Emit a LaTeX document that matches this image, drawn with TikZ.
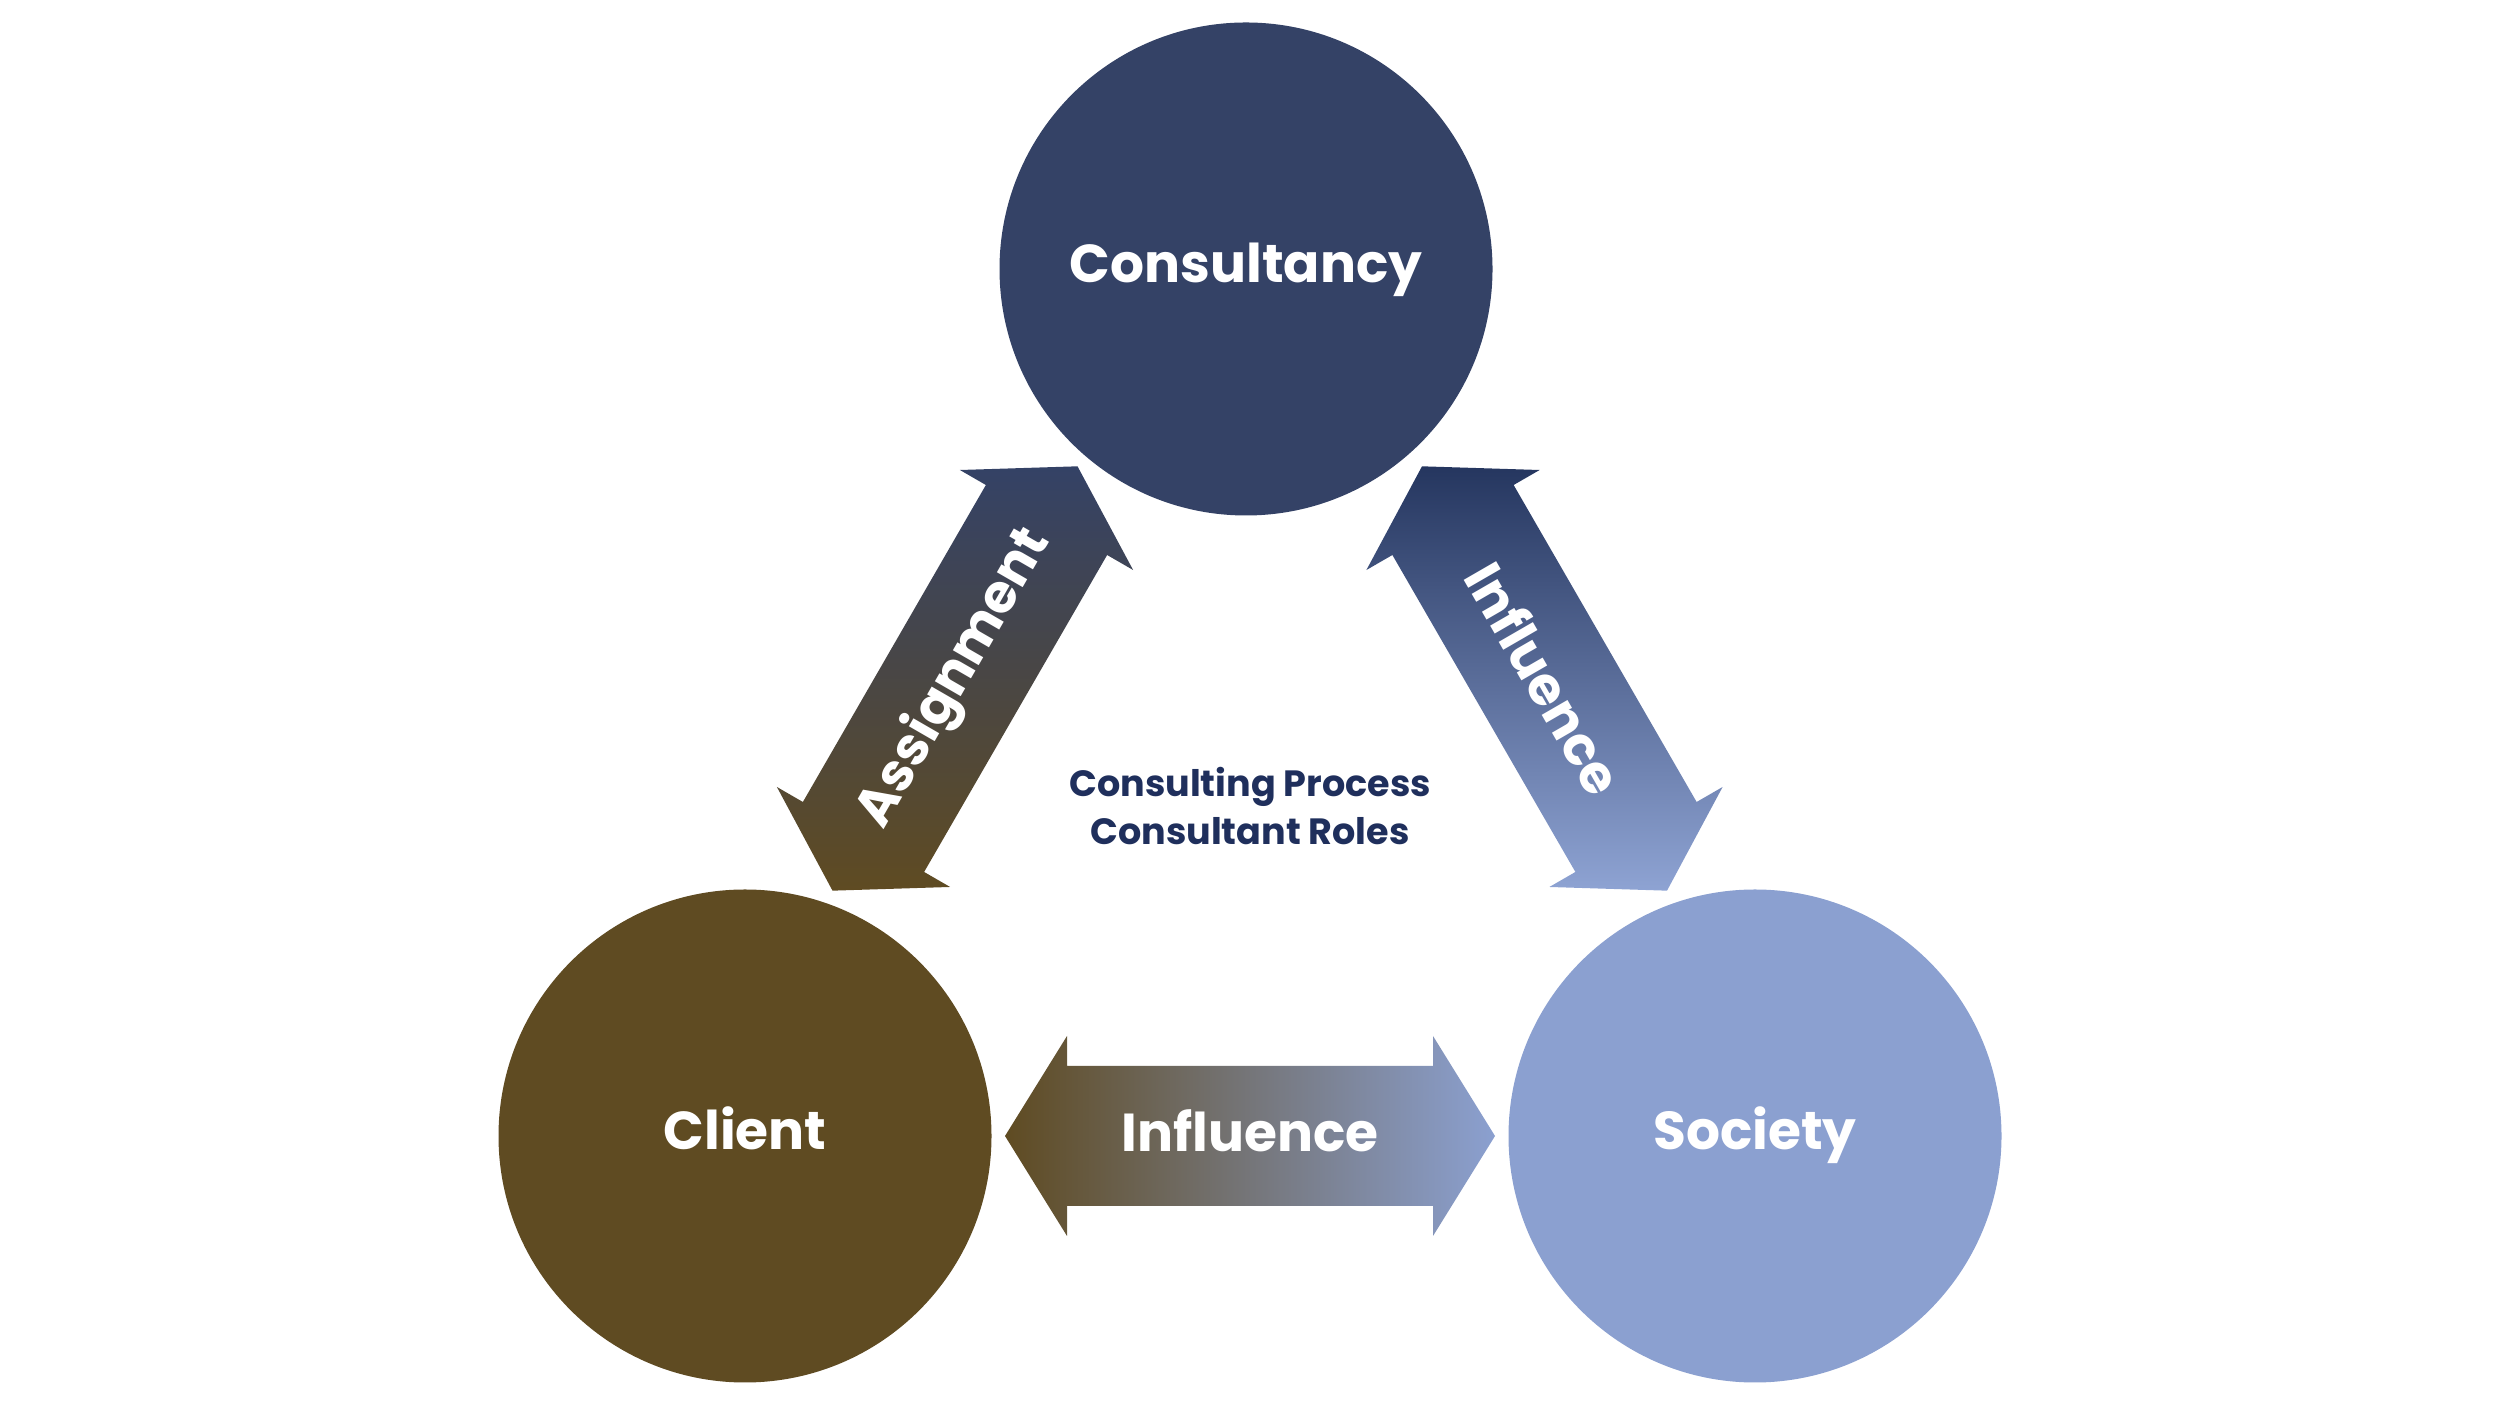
\documentclass[tikz,border=0pt]{standalone}
\usepackage{fontspec}
\setmainfont{Poppins}
\usetikzlibrary{calc}
\definecolor{consnavy}{HTML}{344266}
\definecolor{clientbrown}{HTML}{5F4B22}
\definecolor{societyblue}{HTML}{8BA0D0}
\definecolor{deepnavy}{HTML}{25365F}
\definecolor{paleblue}{HTML}{8EA3D3}
\definecolor{textnavy}{HTML}{1F2F5C}
\begin{document}
\begin{tikzpicture}[
    bubble/.style={circle, minimum size=4.93cm, inner sep=0pt, text=white,
                   text height=0.42cm, text depth=0.14cm,
                   font=\fontsize{15.2}{18}\selectfont\bfseries},
    arrowlbl/.style={text=white, inner sep=0pt,
                     font=\fontsize{15.2}{18}\selectfont\bfseries},
  ]
  \useasboundingbox (0,0) rectangle (25,14.06);

  % the three parties
  \node[bubble, fill=consnavy] (cons) at (12.46,11.37) {Consultancy};
  \node[bubble, fill=clientbrown] (client) at (7.45,2.70) {Client};
  \node[bubble, fill=societyblue] (society) at (17.55,2.70) {Society};

  % two-headed block arrows between them
  \coordinate (asgmid) at (9.55,7.275);
  \coordinate (inflmid) at (15.445,7.275);
  \coordinate (basemid) at ($(client)!0.5!(society)$);
  \foreach \mid/\ang/\ca/\cb/\sa in {asgmid/60/consnavy/clientbrown/0,
                                     inflmid/-60/deepnavy/paleblue/0,
                                     basemid/0/clientbrown/societyblue/90}{
    \begin{scope}[shift={(\mid)}, rotate=\ang]
      \shade[top color=\ca, bottom color=\cb, shading angle=\sa]
        (-2.45,0) -- (-1.83,1) -- (-1.83,0.7) -- (1.83,0.7) -- (1.83,1)
        -- (2.45,0) -- (1.83,-1) -- (1.83,-0.7) -- (-1.83,-0.7)
        -- (-1.83,-1) -- cycle;
    \end{scope}
  }
  \node[arrowlbl, rotate=60] (asglbl) at (asgmid) {Assignment};
  \node[arrowlbl, rotate=-60] (infllbl) at (inflmid) {Influence};
  \node[arrowlbl] (baselbl) at ($(basemid)+(0,0.05)$) {Influence};

  \node[text=textnavy, align=center, font=\fontsize{10.4}{13.5}\selectfont\bfseries]
    (process) at (12.5,6.0) {Consulting Process\\Consultant Roles};
\end{tikzpicture}
\end{document}
